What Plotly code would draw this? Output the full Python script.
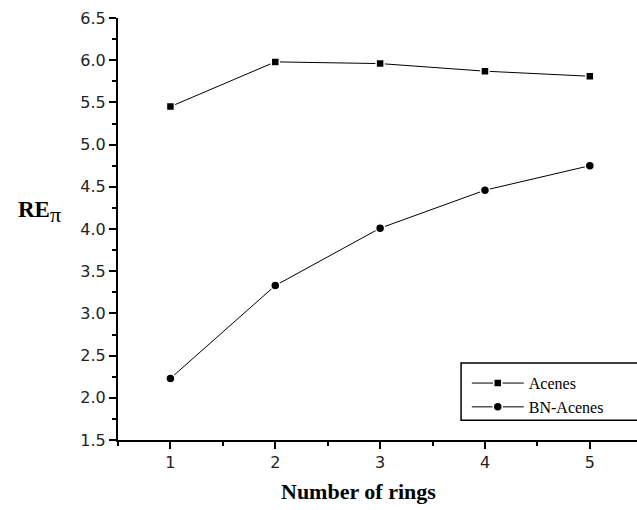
import plotly.graph_objects as go

rings = [1, 2, 3, 4, 5]
acenes = [5.45, 5.98, 5.96, 5.87, 5.81]
bn_acenes = [2.23, 3.33, 4.01, 4.46, 4.75]

serif = "Liberation Serif, Times New Roman, serif"
sans = "DejaVu Sans, Arial, sans-serif"

fig = go.Figure()
fig.add_trace(go.Scatter(
    x=rings, y=acenes, name="Acenes", mode="lines+markers",
    line=dict(color="black", width=1),
    marker=dict(symbol="square", size=8, color="black", line=dict(color="white", width=1.5)),
))
fig.add_trace(go.Scatter(
    x=rings, y=bn_acenes, name="BN-Acenes", mode="lines+markers",
    line=dict(color="black", width=1),
    marker=dict(symbol="circle", size=9, color="black", line=dict(color="white", width=1.5)),
))

axis_common = dict(
    showline=True, linecolor="black", linewidth=2,
    ticks="outside", ticklen=7, tickwidth=2, tickcolor="black",
    showgrid=False, zeroline=False, mirror=False,
    tickfont=dict(family=sans, size=16, color="#222222"),
)

fig.update_xaxes(
    range=[0.5, 5.45], tickvals=rings, **axis_common,
    minor=dict(dtick=0.5, ticks="outside", ticklen=4, tickwidth=1.5, tickcolor="black", showgrid=False),
)
fig.update_yaxes(
    range=[1.5, 6.5], dtick=0.5, tick0=1.5, tickformat=".1f", **axis_common,
    minor=dict(dtick=0.25, ticks="outside", ticklen=4, tickwidth=1.5, tickcolor="black", showgrid=False),
)

fig.add_annotation(
    text="<b>RE</b><sub><span style='font-size:22px'>π</span></sub>", xref="paper", yref="paper",
    x=-0.152, y=0.54, xanchor="center", yanchor="middle", showarrow=False,
    font=dict(family=serif, size=23, color="black"),
)
fig.add_annotation(
    text="<b>Number of rings</b>", xref="paper", yref="paper",
    x=0.464, y=-0.123, xanchor="center", yanchor="middle", showarrow=False,
    font=dict(family=serif, size=22, color="black"),
)

fig.add_shape(
    type="rect", xref="paper", yref="paper",
    x0=0.661, x1=1.02, y0=0.047, y1=0.1825,
    line=dict(color="black", width=1.5), fillcolor="white", layer="below",
)

fig.update_layout(
    width=637, height=510,
    margin=dict(l=118, r=0, t=18, b=70),
    paper_bgcolor="white", plot_bgcolor="white",
    showlegend=True,
    legend=dict(
        x=0.672, y=0.175, xanchor="left", yanchor="top",
        bgcolor="rgba(0,0,0,0)", borderwidth=0,
        font=dict(family=serif, size=16, color="black"),
        itemwidth=52, tracegroupgap=0,
    ),
)

fig.write_html(
    "out.html",
    config={"displayModeBar": False},
    post_script="document.body.style.margin='0';document.body.style.overflow='hidden';",
)
